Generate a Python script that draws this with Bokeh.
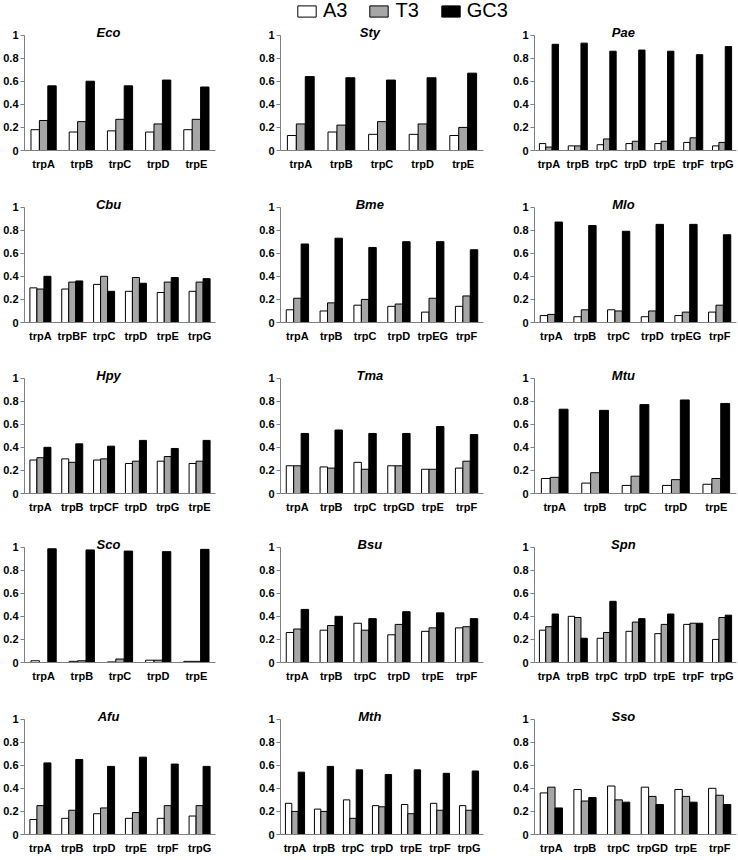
from bokeh.plotting import figure
from bokeh.layouts import column, row
from bokeh.models import (ColumnDataSource, FactorRange, Range1d, FixedTicker,
                          CustomJSTickFormatter, Label, Legend, LegendItem)
from bokeh.transform import dodge
from bokeh.embed import file_html
from bokeh.resources import INLINE

series = ["A3", "T3", "GC3"]
colors = ["#ffffff", "#a6a6a6", "#000000"]
y_ticks = [0, 0.2, 0.4, 0.6, 0.8, 1.0]

# ---- data ----
eco_genes = ["trpA", "trpB", "trpC", "trpD", "trpE"]
eco_A3 = [0.18, 0.16, 0.17, 0.16, 0.18]
eco_T3 = [0.26, 0.25, 0.27, 0.23, 0.27]
eco_GC3 = [0.56, 0.60, 0.56, 0.61, 0.55]

sty_genes = ["trpA", "trpB", "trpC", "trpD", "trpE"]
sty_A3 = [0.13, 0.16, 0.14, 0.14, 0.13]
sty_T3 = [0.23, 0.22, 0.25, 0.23, 0.20]
sty_GC3 = [0.64, 0.63, 0.61, 0.63, 0.67]

pae_genes = ["trpA", "trpB", "trpC", "trpD", "trpE", "trpF", "trpG"]
pae_A3 = [0.06, 0.04, 0.05, 0.06, 0.06, 0.07, 0.04]
pae_T3 = [0.03, 0.04, 0.10, 0.08, 0.08, 0.11, 0.07]
pae_GC3 = [0.92, 0.93, 0.86, 0.87, 0.86, 0.83, 0.90]

cbu_genes = ["trpA", "trpBF", "trpC", "trpD", "trpE", "trpG"]
cbu_A3 = [0.30, 0.29, 0.33, 0.27, 0.26, 0.27]
cbu_T3 = [0.29, 0.35, 0.40, 0.39, 0.35, 0.35]
cbu_GC3 = [0.40, 0.36, 0.27, 0.34, 0.39, 0.38]

bme_genes = ["trpA", "trpB", "trpC", "trpD", "trpEG", "trpF"]
bme_A3 = [0.11, 0.10, 0.15, 0.14, 0.09, 0.14]
bme_T3 = [0.21, 0.17, 0.20, 0.16, 0.21, 0.23]
bme_GC3 = [0.68, 0.73, 0.65, 0.70, 0.70, 0.63]

mlo_genes = ["trpA", "trpB", "trpC", "trpD", "trpEG", "trpF"]
mlo_A3 = [0.06, 0.05, 0.11, 0.05, 0.06, 0.09]
mlo_T3 = [0.07, 0.11, 0.10, 0.10, 0.09, 0.15]
mlo_GC3 = [0.87, 0.84, 0.79, 0.85, 0.85, 0.76]

hpy_genes = ["trpA", "trpB", "trpCF", "trpD", "trpG", "trpE"]
hpy_A3 = [0.29, 0.30, 0.29, 0.26, 0.28, 0.26]
hpy_T3 = [0.31, 0.27, 0.30, 0.28, 0.32, 0.28]
hpy_GC3 = [0.40, 0.43, 0.41, 0.46, 0.39, 0.46]

tma_genes = ["trpA", "trpB", "trpC", "trpGD", "trpE", "trpF"]
tma_A3 = [0.24, 0.23, 0.27, 0.24, 0.21, 0.22]
tma_T3 = [0.24, 0.22, 0.21, 0.24, 0.21, 0.28]
tma_GC3 = [0.52, 0.55, 0.52, 0.52, 0.58, 0.51]

mtu_genes = ["trpA", "trpB", "trpC", "trpD", "trpE"]
mtu_A3 = [0.13, 0.09, 0.07, 0.07, 0.08]
mtu_T3 = [0.14, 0.18, 0.15, 0.12, 0.13]
mtu_GC3 = [0.73, 0.72, 0.77, 0.81, 0.78]

sco_genes = ["trpA", "trpB", "trpC", "trpD", "trpE"]
sco_A3 = [0.015, 0.01, 0.005, 0.02, 0.01]
sco_T3 = [0.0, 0.015, 0.03, 0.02, 0.01]
sco_GC3 = [0.985, 0.975, 0.965, 0.96, 0.98]

bsu_genes = ["trpA", "trpB", "trpC", "trpD", "trpE", "trpF"]
bsu_A3 = [0.26, 0.28, 0.34, 0.24, 0.27, 0.30]
bsu_T3 = [0.29, 0.32, 0.28, 0.33, 0.30, 0.31]
bsu_GC3 = [0.46, 0.40, 0.38, 0.44, 0.43, 0.38]

spn_genes = ["trpA", "trpB", "trpC", "trpD", "trpE", "trpF", "trpG"]
spn_A3 = [0.28, 0.40, 0.21, 0.27, 0.25, 0.33, 0.20]
spn_T3 = [0.31, 0.39, 0.26, 0.35, 0.33, 0.34, 0.39]
spn_GC3 = [0.42, 0.21, 0.53, 0.38, 0.42, 0.34, 0.41]

afu_genes = ["trpA", "trpB", "trpD", "trpE", "trpF", "trpG"]
afu_A3 = [0.13, 0.14, 0.18, 0.14, 0.14, 0.16]
afu_T3 = [0.25, 0.21, 0.23, 0.19, 0.25, 0.25]
afu_GC3 = [0.62, 0.65, 0.59, 0.67, 0.61, 0.59]

mth_genes = ["trpA", "trpB", "trpC", "trpD", "trpE", "trpF", "trpG"]
mth_A3 = [0.27, 0.22, 0.30, 0.25, 0.26, 0.27, 0.25]
mth_T3 = [0.20, 0.20, 0.14, 0.24, 0.18, 0.21, 0.21]
mth_GC3 = [0.54, 0.59, 0.56, 0.52, 0.56, 0.53, 0.55]

sso_genes = ["trpA", "trpB", "trpC", "trpGD", "trpE", "trpF"]
sso_A3 = [0.36, 0.39, 0.42, 0.41, 0.39, 0.40]
sso_T3 = [0.41, 0.29, 0.30, 0.33, 0.33, 0.34]
sso_GC3 = [0.23, 0.32, 0.28, 0.26, 0.28, 0.26]

panels = [
    [("Eco", eco_genes, eco_A3, eco_T3, eco_GC3),
     ("Sty", sty_genes, sty_A3, sty_T3, sty_GC3),
     ("Pae", pae_genes, pae_A3, pae_T3, pae_GC3)],
    [("Cbu", cbu_genes, cbu_A3, cbu_T3, cbu_GC3),
     ("Bme", bme_genes, bme_A3, bme_T3, bme_GC3),
     ("Mlo", mlo_genes, mlo_A3, mlo_T3, mlo_GC3)],
    [("Hpy", hpy_genes, hpy_A3, hpy_T3, hpy_GC3),
     ("Tma", tma_genes, tma_A3, tma_T3, tma_GC3),
     ("Mtu", mtu_genes, mtu_A3, mtu_T3, mtu_GC3)],
    [("Sco", sco_genes, sco_A3, sco_T3, sco_GC3),
     ("Bsu", bsu_genes, bsu_A3, bsu_T3, bsu_GC3),
     ("Spn", spn_genes, spn_A3, spn_T3, spn_GC3)],
    [("Afu", afu_genes, afu_A3, afu_T3, afu_GC3),
     ("Mth", mth_genes, mth_A3, mth_T3, mth_GC3),
     ("Sso", sso_genes, sso_A3, sso_T3, sso_GC3)],
]

# ---- layout settings ----
FONT = "Liberation Sans"
col_widths = [217, 268, 253]
col_border_left = [22, 63, 49]
col_border_right = [2, 2, 2]
legend_height = 22
frame_h = 127            # frame spans 0 .. 1.1 (axis drawn 0 .. 1)
y_top = 1.1
row_heights = [173, 171, 169, 172, 151]
row_border_top = [1, 0, 0, 0, 0]
bar_w = 0.22
offsets = [-bar_w, 0.0, bar_w]


def make_panel(name, genes, a3, t3, gc3, w, h, bl, br, bt):
    src = ColumnDataSource(dict(gene=genes, A3=a3, T3=t3, GC3=gc3))
    p = figure(x_range=FactorRange(*genes, range_padding=0),
               y_range=Range1d(0, y_top),
               width=w, height=h, output_backend="svg", toolbar_location=None,
               tools="", min_border_left=bl, min_border_right=br,
               min_border_top=bt, min_border_bottom=h - bt - frame_h)
    for s, off, c in zip(series, offsets, colors):
        p.vbar(x=dodge("gene", off, range=p.x_range), top=s, width=bar_w,
               source=src, fill_color=c, line_color="black", line_width=1)
    p.xgrid.visible = False
    p.ygrid.visible = False
    p.outline_line_color = None
    p.background_fill_color = "white"
    p.border_fill_color = "white"

    ya = p.yaxis[0]
    ya.bounds = (0, 1)
    ya.ticker = FixedTicker(ticks=y_ticks, minor_ticks=[])
    ya.formatter = CustomJSTickFormatter(code="return String(Math.round(tick*10)/10);")
    ya.major_tick_in = 0
    ya.major_tick_out = 4
    ya.minor_tick_in = 0
    ya.minor_tick_out = 0
    ya.axis_line_color = "#808080"
    ya.major_tick_line_color = "#808080"
    ya.major_label_standoff = 2
    ya.major_label_text_font = FONT
    ya.major_label_text_font_size = "11px"
    ya.major_label_text_font_style = "bold"
    ya.major_label_text_color = "black"

    xa = p.xaxis[0]
    xa.major_tick_in = 0
    xa.major_tick_out = 0
    xa.minor_tick_in = 0
    xa.minor_tick_out = 0
    xa.axis_line_color = "#808080"
    xa.major_label_standoff = 7
    xa.major_label_text_font = FONT
    xa.major_label_text_font_size = "11px"
    xa.major_label_text_font_style = "bold"
    xa.major_label_text_color = "black"

    p.add_layout(Label(x=0.44 * len(genes), y=1.0, text=name,
                       text_font=FONT, text_font_size="13px",
                       text_font_style="bold italic", text_color="black",
                       text_align="center", text_baseline="middle",
                       y_offset=3))
    return p


# ---- legend strip (legend renderers use real data, kept outside the view) ----
leg_src = ColumnDataSource(dict(gene=eco_genes, A3=eco_A3, T3=eco_T3, GC3=eco_GC3))
lf = figure(width=sum(col_widths), height=legend_height,
            x_range=FactorRange(*eco_genes), y_range=Range1d(2, 3),
            output_backend="svg", toolbar_location=None,
            tools="", min_border=0, x_axis_location=None, y_axis_location=None)
lf.xgrid.visible = False
lf.ygrid.visible = False
lf.outline_line_color = None
items = []
for s, c in zip(series, colors):
    r = lf.vbar(x="gene", top=s, width=0.2, source=leg_src,
                fill_color=c, line_color="black", line_width=1)
    items.append(LegendItem(label=s, renderers=[r]))
leg = Legend(items=items, orientation="horizontal", location=(295, 0),
             glyph_width=23, glyph_height=14, label_standoff=5, spacing=20,
             padding=0, margin=0, border_line_color=None,
             background_fill_alpha=0, label_text_font=FONT,
             label_text_font_size="20px", label_text_color="black")
lf.add_layout(leg)

rows = [lf]
for ri, prow in enumerate(panels):
    figs = []
    for ci, (name, genes, a3, t3, gc3) in enumerate(prow):
        figs.append(make_panel(name, genes, a3, t3, gc3, col_widths[ci],
                               row_heights[ri], col_border_left[ci],
                               col_border_right[ci], row_border_top[ri]))
    rows.append(row(*figs))

layout = column(*rows)

with open("out.html", "w") as f:
    f.write(file_html(layout, INLINE))
